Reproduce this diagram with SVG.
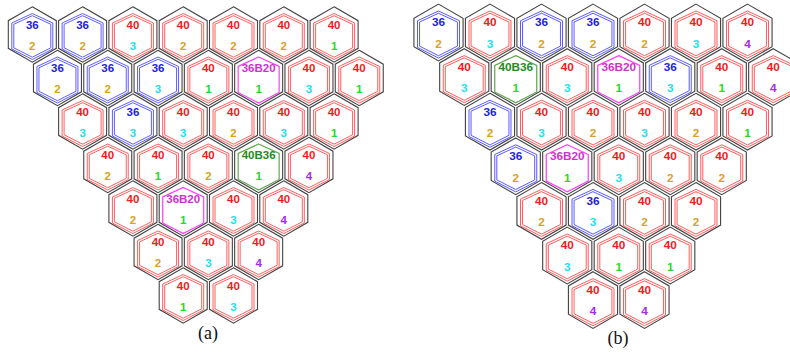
<svg xmlns="http://www.w3.org/2000/svg" width="790" height="352" viewBox="0 0 790 352">
<style>
.k{fill:none;stroke:#444;stroke-width:1.1}
.r{fill:none;stroke:#ff4d4d;stroke-width:0.9}
.b{fill:none;stroke:#4b4bff;stroke-width:0.9}
.m{fill:none;stroke:#ff3cff;stroke-width:1.2}
.g{fill:none;stroke:#5fa84f;stroke-width:1.2}
.t{font-family:"Liberation Sans",Arial,sans-serif;font-weight:bold;font-size:11.5px;text-anchor:middle}
.tr{fill:#ee1c1c}.tb{fill:#2222dd}.tm{fill:#cc33cc}.tg{fill:#228b22}
.n1{fill:#22dd22}.n2{fill:#d9a125}.n3{fill:#20e0f0}.n4{fill:#a42cf0}
.cap{font-family:"Liberation Serif","Times New Roman",serif;font-size:18px;text-anchor:middle;fill:#111}
</style>
<defs>
<polygon id="hk" class="k" points="0,-27.7 24,-13.85 24,13.85 0,27.7 -24,13.85 -24,-13.85"/>
<polygon id="ho" points="0,-21 20.5,-11.5 20.5,14.5 0,25 -20.5,14.5 -20.5,-11.5"/>
<polygon id="hi" points="0,-18.8 18.5,-10.2 18.5,13.3 0,22.7 -18.5,13.3 -18.5,-10.2"/>
</defs>
<g id="connectors"/>
<g id="panel-a">
<g id="a00" transform="translate(32.3,34.5)"><use href="#hk"/><use href="#ho" class="b"/><use href="#hi" class="b"/><text class="t tb" y="-6">36</text><text class="t n2" y="15">2</text></g>
<g id="a01" transform="translate(82.6,34.5)"><use href="#hk"/><use href="#ho" class="b"/><use href="#hi" class="b"/><text class="t tb" y="-6">36</text><text class="t n2" y="15">2</text></g>
<g id="a02" transform="translate(132.9,34.5)"><use href="#hk"/><use href="#ho" class="r"/><use href="#hi" class="r"/><text class="t tr" y="-6">40</text><text class="t n3" y="15">3</text></g>
<g id="a03" transform="translate(183.2,34.5)"><use href="#hk"/><use href="#ho" class="r"/><use href="#hi" class="r"/><text class="t tr" y="-6">40</text><text class="t n2" y="15">2</text></g>
<g id="a04" transform="translate(233.5,34.5)"><use href="#hk"/><use href="#ho" class="r"/><use href="#hi" class="r"/><text class="t tr" y="-6">40</text><text class="t n2" y="15">2</text></g>
<g id="a05" transform="translate(283.8,34.5)"><use href="#hk"/><use href="#ho" class="r"/><use href="#hi" class="r"/><text class="t tr" y="-6">40</text><text class="t n2" y="15">2</text></g>
<g id="a06" transform="translate(334.1,34.5)"><use href="#hk"/><use href="#ho" class="r"/><use href="#hi" class="r"/><text class="t tr" y="-6">40</text><text class="t n1" y="15">1</text></g>

<g id="a10" transform="translate(57.45,78)"><use href="#hk"/><use href="#ho" class="b"/><use href="#hi" class="b"/><text class="t tb" y="-6">36</text><text class="t n2" y="15">2</text></g>
<g id="a11" transform="translate(107.75,78)"><use href="#hk"/><use href="#ho" class="b"/><use href="#hi" class="b"/><text class="t tb" y="-6">36</text><text class="t n2" y="15">2</text></g>
<g id="a12" transform="translate(158.05,78)"><use href="#hk"/><use href="#ho" class="b"/><use href="#hi" class="b"/><text class="t tb" y="-6">36</text><text class="t n3" y="15">3</text></g>
<g id="a13" transform="translate(208.35,78)"><use href="#hk"/><use href="#ho" class="r"/><use href="#hi" class="r"/><text class="t tr" y="-6">40</text><text class="t n1" y="15">1</text></g>
<g id="a14" transform="translate(258.65,78)"><use href="#hk"/><use href="#ho" class="m"/><text class="t tm" y="-6">36B20</text><text class="t n1" y="15">1</text></g>
<g id="a15" transform="translate(308.95,78)"><use href="#hk"/><use href="#ho" class="r"/><use href="#hi" class="r"/><text class="t tr" y="-6">40</text><text class="t n3" y="15">3</text></g>
<g id="a16" transform="translate(359.25,78)"><use href="#hk"/><use href="#ho" class="r"/><use href="#hi" class="r"/><text class="t tr" y="-6">40</text><text class="t n1" y="15">1</text></g>

<g id="a20" transform="translate(82.6,121.5)"><use href="#hk"/><use href="#ho" class="r"/><use href="#hi" class="r"/><text class="t tr" y="-6">40</text><text class="t n3" y="15">3</text></g>
<g id="a21" transform="translate(132.9,121.5)"><use href="#hk"/><use href="#ho" class="b"/><use href="#hi" class="b"/><text class="t tb" y="-6">36</text><text class="t n3" y="15">3</text></g>
<g id="a22" transform="translate(183.2,121.5)"><use href="#hk"/><use href="#ho" class="r"/><use href="#hi" class="r"/><text class="t tr" y="-6">40</text><text class="t n3" y="15">3</text></g>
<g id="a23" transform="translate(233.5,121.5)"><use href="#hk"/><use href="#ho" class="r"/><use href="#hi" class="r"/><text class="t tr" y="-6">40</text><text class="t n2" y="15">2</text></g>
<g id="a24" transform="translate(283.8,121.5)"><use href="#hk"/><use href="#ho" class="r"/><use href="#hi" class="r"/><text class="t tr" y="-6">40</text><text class="t n3" y="15">3</text></g>
<g id="a25" transform="translate(334.1,121.5)"><use href="#hk"/><use href="#ho" class="r"/><use href="#hi" class="r"/><text class="t tr" y="-6">40</text><text class="t n1" y="15">1</text></g>

<g id="a30" transform="translate(107.75,165)"><use href="#hk"/><use href="#ho" class="r"/><use href="#hi" class="r"/><text class="t tr" y="-6">40</text><text class="t n2" y="15">2</text></g>
<g id="a31" transform="translate(158.05,165)"><use href="#hk"/><use href="#ho" class="r"/><use href="#hi" class="r"/><text class="t tr" y="-6">40</text><text class="t n1" y="15">1</text></g>
<g id="a32" transform="translate(208.35,165)"><use href="#hk"/><use href="#ho" class="r"/><use href="#hi" class="r"/><text class="t tr" y="-6">40</text><text class="t n2" y="15">2</text></g>
<g id="a33" transform="translate(258.65,165)"><use href="#hk"/><use href="#ho" class="g"/><text class="t tg" y="-6">40B36</text><text class="t n1" y="15">1</text></g>
<g id="a34" transform="translate(308.95,165)"><use href="#hk"/><use href="#ho" class="r"/><use href="#hi" class="r"/><text class="t tr" y="-6">40</text><text class="t n4" y="15">4</text></g>

<g id="a40" transform="translate(132.9,208.5)"><use href="#hk"/><use href="#ho" class="r"/><use href="#hi" class="r"/><text class="t tr" y="-6">40</text><text class="t n2" y="15">2</text></g>
<g id="a41" transform="translate(183.2,208.5)"><use href="#hk"/><use href="#ho" class="m"/><text class="t tm" y="-6">36B20</text><text class="t n1" y="15">1</text></g>
<g id="a42" transform="translate(233.5,208.5)"><use href="#hk"/><use href="#ho" class="r"/><use href="#hi" class="r"/><text class="t tr" y="-6">40</text><text class="t n3" y="15">3</text></g>
<g id="a43" transform="translate(283.8,208.5)"><use href="#hk"/><use href="#ho" class="r"/><use href="#hi" class="r"/><text class="t tr" y="-6">40</text><text class="t n4" y="15">4</text></g>

<g id="a50" transform="translate(158.05,252)"><use href="#hk"/><use href="#ho" class="r"/><use href="#hi" class="r"/><text class="t tr" y="-6">40</text><text class="t n2" y="15">2</text></g>
<g id="a51" transform="translate(208.35,252)"><use href="#hk"/><use href="#ho" class="r"/><use href="#hi" class="r"/><text class="t tr" y="-6">40</text><text class="t n3" y="15">3</text></g>
<g id="a52" transform="translate(258.65,252)"><use href="#hk"/><use href="#ho" class="r"/><use href="#hi" class="r"/><text class="t tr" y="-6">40</text><text class="t n4" y="15">4</text></g>

<g id="a60" transform="translate(183.2,295.5)"><use href="#hk"/><use href="#ho" class="r"/><use href="#hi" class="r"/><text class="t tr" y="-6">40</text><text class="t n1" y="15">1</text></g>
<g id="a61" transform="translate(233.5,295.5)"><use href="#hk"/><use href="#ho" class="r"/><use href="#hi" class="r"/><text class="t tr" y="-6">40</text><text class="t n3" y="15">3</text></g>
<text class="cap" x="208" y="339">(a)</text>
</g>

<g id="panel-b">
<g id="b00" transform="translate(438.5,32.5) scale(1.024)"><use href="#hk"/><use href="#ho" class="b"/><use href="#hi" class="b"/><text class="t tb" y="-6">36</text><text class="t n2" y="15">2</text></g>
<g id="b01" transform="translate(490,32.5) scale(1.024)"><use href="#hk"/><use href="#ho" class="r"/><use href="#hi" class="r"/><text class="t tr" y="-6">40</text><text class="t n3" y="15">3</text></g>
<g id="b02" transform="translate(541.5,32.5) scale(1.024)"><use href="#hk"/><use href="#ho" class="b"/><use href="#hi" class="b"/><text class="t tb" y="-6">36</text><text class="t n2" y="15">2</text></g>
<g id="b03" transform="translate(593,32.5) scale(1.024)"><use href="#hk"/><use href="#ho" class="b"/><use href="#hi" class="b"/><text class="t tb" y="-6">36</text><text class="t n2" y="15">2</text></g>
<g id="b04" transform="translate(644.5,32.5) scale(1.024)"><use href="#hk"/><use href="#ho" class="r"/><use href="#hi" class="r"/><text class="t tr" y="-6">40</text><text class="t n2" y="15">2</text></g>
<g id="b05" transform="translate(696,32.5) scale(1.024)"><use href="#hk"/><use href="#ho" class="r"/><use href="#hi" class="r"/><text class="t tr" y="-6">40</text><text class="t n3" y="15">3</text></g>
<g id="b06" transform="translate(747.5,32.5) scale(1.024)"><use href="#hk"/><use href="#ho" class="r"/><use href="#hi" class="r"/><text class="t tr" y="-6">40</text><text class="t n4" y="15">4</text></g>

<g id="b10" transform="translate(464.25,77.1) scale(1.024)"><use href="#hk"/><use href="#ho" class="r"/><use href="#hi" class="r"/><text class="t tr" y="-6">40</text><text class="t n3" y="15">3</text></g>
<g id="b11" transform="translate(515.75,77.1) scale(1.024)"><use href="#hk"/><use href="#ho" class="g"/><text class="t tg" y="-6">40B36</text><text class="t n1" y="15">1</text></g>
<g id="b12" transform="translate(567.25,77.1) scale(1.024)"><use href="#hk"/><use href="#ho" class="r"/><use href="#hi" class="r"/><text class="t tr" y="-6">40</text><text class="t n3" y="15">3</text></g>
<g id="b13" transform="translate(618.75,77.1) scale(1.024)"><use href="#hk"/><use href="#ho" class="m"/><text class="t tm" y="-6">36B20</text><text class="t n1" y="15">1</text></g>
<g id="b14" transform="translate(670.25,77.1) scale(1.024)"><use href="#hk"/><use href="#ho" class="b"/><use href="#hi" class="b"/><text class="t tb" y="-6">36</text><text class="t n3" y="15">3</text></g>
<g id="b15" transform="translate(721.75,77.1) scale(1.024)"><use href="#hk"/><use href="#ho" class="r"/><use href="#hi" class="r"/><text class="t tr" y="-6">40</text><text class="t n1" y="15">1</text></g>
<g id="b16" transform="translate(773.25,77.1) scale(1.024)"><use href="#hk"/><use href="#ho" class="r"/><use href="#hi" class="r"/><text class="t tr" y="-6">40</text><text class="t n4" y="15">4</text></g>

<g id="b20" transform="translate(490,121.7) scale(1.024)"><use href="#hk"/><use href="#ho" class="b"/><use href="#hi" class="b"/><text class="t tb" y="-6">36</text><text class="t n2" y="15">2</text></g>
<g id="b21" transform="translate(541.5,121.7) scale(1.024)"><use href="#hk"/><use href="#ho" class="r"/><use href="#hi" class="r"/><text class="t tr" y="-6">40</text><text class="t n3" y="15">3</text></g>
<g id="b22" transform="translate(593,121.7) scale(1.024)"><use href="#hk"/><use href="#ho" class="r"/><use href="#hi" class="r"/><text class="t tr" y="-6">40</text><text class="t n2" y="15">2</text></g>
<g id="b23" transform="translate(644.5,121.7) scale(1.024)"><use href="#hk"/><use href="#ho" class="r"/><use href="#hi" class="r"/><text class="t tr" y="-6">40</text><text class="t n3" y="15">3</text></g>
<g id="b24" transform="translate(696,121.7) scale(1.024)"><use href="#hk"/><use href="#ho" class="r"/><use href="#hi" class="r"/><text class="t tr" y="-6">40</text><text class="t n2" y="15">2</text></g>
<g id="b25" transform="translate(747.5,121.7) scale(1.024)"><use href="#hk"/><use href="#ho" class="r"/><use href="#hi" class="r"/><text class="t tr" y="-6">40</text><text class="t n1" y="15">1</text></g>

<g id="b30" transform="translate(515.75,166.3) scale(1.024)"><use href="#hk"/><use href="#ho" class="b"/><use href="#hi" class="b"/><text class="t tb" y="-6">36</text><text class="t n2" y="15">2</text></g>
<g id="b31" transform="translate(567.25,166.3) scale(1.024)"><use href="#hk"/><use href="#ho" class="m"/><text class="t tm" y="-6">36B20</text><text class="t n1" y="15">1</text></g>
<g id="b32" transform="translate(618.75,166.3) scale(1.024)"><use href="#hk"/><use href="#ho" class="r"/><use href="#hi" class="r"/><text class="t tr" y="-6">40</text><text class="t n3" y="15">3</text></g>
<g id="b33" transform="translate(670.25,166.3) scale(1.024)"><use href="#hk"/><use href="#ho" class="r"/><use href="#hi" class="r"/><text class="t tr" y="-6">40</text><text class="t n2" y="15">2</text></g>
<g id="b34" transform="translate(721.75,166.3) scale(1.024)"><use href="#hk"/><use href="#ho" class="r"/><use href="#hi" class="r"/><text class="t tr" y="-6">40</text><text class="t n2" y="15">2</text></g>

<g id="b40" transform="translate(541.5,210.9) scale(1.024)"><use href="#hk"/><use href="#ho" class="r"/><use href="#hi" class="r"/><text class="t tr" y="-6">40</text><text class="t n2" y="15">2</text></g>
<g id="b41" transform="translate(593,210.9) scale(1.024)"><use href="#hk"/><use href="#ho" class="b"/><use href="#hi" class="b"/><text class="t tb" y="-6">36</text><text class="t n3" y="15">3</text></g>
<g id="b42" transform="translate(644.5,210.9) scale(1.024)"><use href="#hk"/><use href="#ho" class="r"/><use href="#hi" class="r"/><text class="t tr" y="-6">40</text><text class="t n2" y="15">2</text></g>
<g id="b43" transform="translate(696,210.9) scale(1.024)"><use href="#hk"/><use href="#ho" class="r"/><use href="#hi" class="r"/><text class="t tr" y="-6">40</text><text class="t n2" y="15">2</text></g>

<g id="b50" transform="translate(567.25,255.5) scale(1.024)"><use href="#hk"/><use href="#ho" class="r"/><use href="#hi" class="r"/><text class="t tr" y="-6">40</text><text class="t n3" y="15">3</text></g>
<g id="b51" transform="translate(618.75,255.5) scale(1.024)"><use href="#hk"/><use href="#ho" class="r"/><use href="#hi" class="r"/><text class="t tr" y="-6">40</text><text class="t n1" y="15">1</text></g>
<g id="b52" transform="translate(670.25,255.5) scale(1.024)"><use href="#hk"/><use href="#ho" class="r"/><use href="#hi" class="r"/><text class="t tr" y="-6">40</text><text class="t n1" y="15">1</text></g>

<g id="b60" transform="translate(593,300.1) scale(1.024)"><use href="#hk"/><use href="#ho" class="r"/><use href="#hi" class="r"/><text class="t tr" y="-6">40</text><text class="t n4" y="15">4</text></g>
<g id="b61" transform="translate(644.5,300.1) scale(1.024)"><use href="#hk"/><use href="#ho" class="r"/><use href="#hi" class="r"/><text class="t tr" y="-6">40</text><text class="t n4" y="15">4</text></g>
<text class="cap" x="618" y="344">(b)</text>
</g>
</svg>
